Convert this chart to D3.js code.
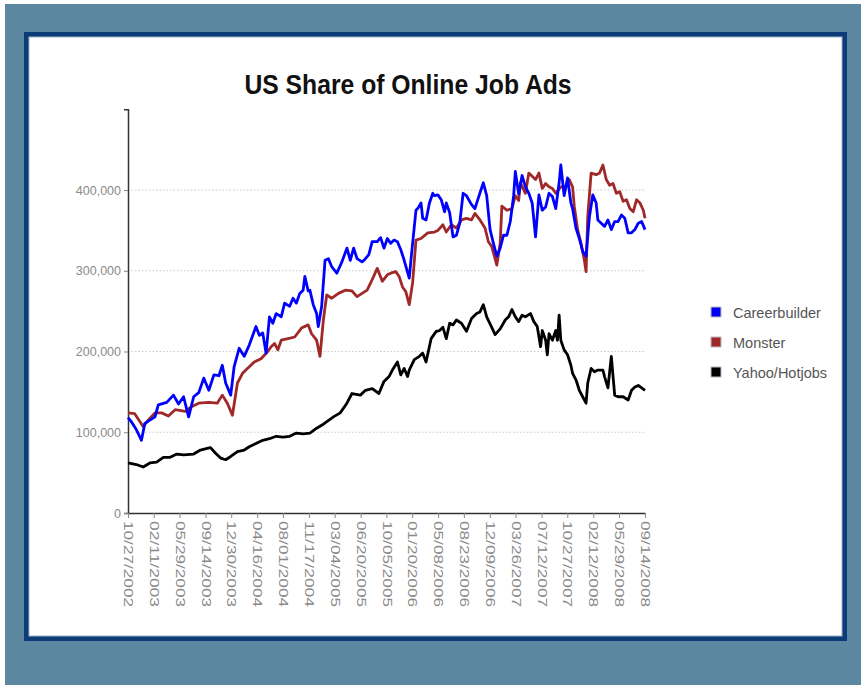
<!DOCTYPE html>
<html><head><meta charset="utf-8">
<script src="https://cdn.jsdelivr.net/npm/d3@7/dist/d3.min.js"></script>
<style>body{margin:0;background:#fff}svg{display:block}</style>
</head><body><svg id="c" width="861" height="685"></svg>
<script>
const title = "US Share of Online Job Ads";
const startDate = "2002-10-27";
const totalWeeks = 307;
const xTickLabels = ["10/27/2002","02/11/2003","05/29/2003","09/14/2003","12/30/2003","04/16/2004","08/01/2004","11/17/2004","03/04/2005","06/20/2005","10/05/2005","01/20/2006","05/08/2006","08/23/2006","12/09/2006","03/26/2007","07/12/2007","10/27/2007","02/12/2008","05/29/2008","09/14/2008"];
const yTicks = [0,100000,200000,300000,400000];
const seriesNames = ["Careerbuilder","Monster","Yahoo/Hotjobs"];
const seriesColors = ["#0000ff","#a02828","#000000"];
// [week offset from start, value in thousands]
const careerbuilder = [[0,118],[2,113],[5,103],[8,90],[10,111],[13,115],[16,119],[18,134],[23,137],[27,146],[30,135],[33,144],[36,119],[39,144],[42,149],[45,167],[48,152],[51,171],[54,170],[56,183],[58,161],[61,146],[63,181],[66,204],[69,194],[72,208],[76,231],[78,220],[80,223],[82,198],[84,243],[86,235],[88,247],[91,243],[93,260],[96,256],[98,266],[100,260],[102,272],[104,276],[105,293],[107,275],[108,276],[110,258],[112,247],[113,231],[115,256],[117,313],[119,315],[121,305],[124,297],[127,311],[130,328],[132,313],[134,328],[136,315],[139,311],[141,315],[143,320],[145,336],[148,336],[150,341],[152,328],[154,340],[156,334],[158,338],[160,336],[162,326],[164,313],[167,291],[168,313],[171,375],[172,377],[174,384],[175,365],[177,363],[179,384],[181,396],[182,393],[184,394],[186,388],[188,373],[189,384],[191,372],[193,342],[195,344],[197,359],[199,396],[201,393],[204,382],[206,377],[208,390],[211,409],[213,393],[215,351],[217,334],[219,318],[221,328],[223,344],[225,344],[227,361],[229,393],[230,423],[232,395],[234,418],[236,404],[238,396],[240,384],[242,342],[244,394],[246,375],[248,379],[250,396],[252,392],[254,377],[256,409],[257,431],[259,393],[261,415],[263,384],[264,377],[266,353],[268,340],[270,324],[272,318],[274,367],[276,394],[278,384],[279,363],[281,359],[283,355],[285,363],[287,351],[289,361],[291,361],[293,369],[295,365],[297,347],[299,347],[301,351],[303,359],[305,361],[307,351]];
const monster = [[0,124],[4,123],[9,107],[12,115],[16,124],[20,124],[24,120],[28,128],[34,126],[38,132],[42,136],[48,137],[53,136],[56,146],[59,136],[62,121],[65,161],[68,173],[72,181],[75,187],[79,191],[83,200],[85,206],[87,210],[89,202],[91,214],[95,216],[99,218],[103,229],[107,233],[109,222],[112,214],[114,194],[116,239],[118,270],[121,266],[125,272],[129,276],[133,275],[136,268],[139,272],[142,276],[145,289],[148,303],[151,287],[154,295],[156,297],[159,299],[161,293],[163,280],[165,274],[167,258],[169,285],[171,338],[174,340],[178,347],[182,348],[184,350],[187,357],[189,348],[192,357],[195,353],[198,363],[201,365],[204,363],[206,371],[209,363],[212,353],[214,336],[216,330],[219,307],[221,334],[222,380],[225,375],[228,377],[230,393],[232,387],[233,409],[236,396],[238,421],[240,417],[242,413],[244,421],[246,402],[248,408],[250,404],[252,402],[254,396],[257,404],[260,404],[262,413],[264,404],[265,380],[267,351],[269,334],[271,313],[272,299],[273,367],[275,421],[278,419],[280,421],[282,431],[284,413],[286,406],[288,408],[290,396],[292,398],[294,386],[296,388],[298,377],[300,373],[302,388],[304,384],[306,375],[307,365]];
const yahooHotjobs = [[0,62],[5,60],[9,57],[13,62],[17,63],[21,69],[25,69],[29,73],[33,72],[39,73],[43,78],[47,80],[49,81],[52,74],[55,68],[58,66],[61,70],[65,76],[69,78],[72,82],[76,86],[80,90],[84,92],[88,95],[92,94],[96,95],[100,99],[104,98],[108,99],[112,105],[116,110],[122,119],[126,124],[130,136],[133,148],[138,146],[141,152],[145,154],[149,148],[152,163],[155,169],[157,177],[160,187],[162,171],[164,179],[166,169],[167,177],[170,190],[173,194],[175,198],[177,187],[180,216],[183,225],[185,226],[187,230],[189,216],[191,235],[193,233],[195,239],[198,235],[201,225],[204,241],[207,247],[209,249],[211,258],[213,243],[216,230],[218,221],[221,228],[224,239],[226,243],[228,252],[230,243],[232,237],[234,245],[236,243],[239,247],[241,237],[243,231],[245,206],[246,226],[248,214],[249,196],[250,222],[252,214],[254,226],[255,214],[256,245],[257,214],[259,202],[261,196],[263,183],[264,173],[266,165],[268,152],[270,144],[272,136],[273,161],[275,179],[277,175],[279,177],[282,177],[283,169],[285,155],[287,194],[289,146],[291,144],[294,144],[297,140],[299,152],[301,156],[303,158],[305,155],[307,152]];
const allSeries = [careerbuilder, monster, yahooHotjobs];

const svg = d3.select("#c");
// frame
svg.append("rect").attr("x",0).attr("y",0).attr("width",861).attr("height",685).attr("fill","#ffffff");
svg.append("rect").attr("x",5).attr("y",4).attr("width",856).attr("height",681).attr("fill","#5b87a0");
svg.append("rect").attr("x",24).attr("y",32).attr("width",823).attr("height",609).attr("fill","#0b3c78");
svg.append("rect").attr("x",29).attr("y",37).attr("width",813).attr("height",599).attr("fill","#ffffff").attr("stroke","#9fb0c4").attr("stroke-width",1);

const parse = d3.timeParse("%Y-%m-%d");
const parseTick = d3.timeParse("%m/%d/%Y");
const t0 = parse(startDate);
const dateAt = w => d3.timeDay.offset(t0, w*7);

const x = d3.scaleTime().domain([t0, dateAt(totalWeeks)]).range([128,645]);
const y = d3.scaleLinear().domain([0,500000]).range([513,109.3]);

// gridlines
svg.append("g").selectAll("line").data(yTicks.filter(d=>d>0)).join("line")
  .attr("x1",128).attr("x2",645).attr("y1",d=>y(d)).attr("y2",d=>y(d))
  .attr("stroke","#c8c8c8").attr("stroke-dasharray","1.5,2").attr("stroke-width",1);

// title
svg.append("text").attr("transform","translate(408,94) scale(1.03,1.17)").attr("text-anchor","middle")
  .attr("font-family","Liberation Sans, Arial, sans-serif").attr("font-weight","bold")
  .attr("font-size",24).attr("fill","#111").text(title);

// y axis
const yAxis = svg.append("g").attr("transform","translate(128,0)")
  .call(d3.axisLeft(y).tickValues(yTicks).tickFormat(d3.format(",")).tickSize(4).tickPadding(3));
yAxis.select(".domain").attr("stroke","#333").attr("stroke-width",1.5);
yAxis.selectAll(".tick line").attr("stroke","#888");
yAxis.selectAll("text").attr("font-family","Liberation Sans, Arial, sans-serif").attr("font-size",12.5).attr("fill","#8a8a8a");

// x axis
const xAxis = svg.append("g").attr("transform","translate(0,513)")
  .call(d3.axisBottom(x).tickValues(xTickLabels.map(parseTick)).tickFormat(d3.timeFormat("%m/%d/%Y")).tickSize(5).tickSizeOuter(0));
xAxis.select(".domain").attr("stroke","#333").attr("stroke-width",1.5);
xAxis.selectAll(".tick line").attr("stroke","#888");
xAxis.selectAll("text").attr("font-family","Liberation Sans, Arial, sans-serif").attr("font-size",12.5).attr("fill","#8a8a8a")
  .attr("text-anchor","start").attr("dy","0.35em").attr("transform","rotate(90)").attr("x",8).attr("y",0)
  .attr("textLength",86).attr("lengthAdjust","spacingAndGlyphs");

// lines
const line = d3.line().x(d=>x(dateAt(d[0]))).y(d=>y(d[1]*1000));
const lineOrder = [2,1,0];
svg.append("g").selectAll("path").data(lineOrder).join("path")
  .attr("d",i=>line(allSeries[i])).attr("fill","none").attr("stroke",i=>seriesColors[i])
  .attr("stroke-width",2.8).attr("stroke-linejoin","round");

// legend
const lg = svg.append("g").selectAll("g").data(seriesNames).join("g")
  .attr("transform",(d,i)=>`translate(711,${307+i*30})`);
lg.append("rect").attr("x",0).attr("y",0).attr("width",10).attr("height",10)
  .attr("fill",(d,i)=>seriesColors[i]).attr("stroke","#bbb").attr("stroke-width",1);
lg.append("text").attr("x",22).attr("y",10.5).attr("font-family","Liberation Sans, Arial, sans-serif")
  .attr("font-size",14.5).attr("fill","#555").text(d=>d);
</script></body></html>
